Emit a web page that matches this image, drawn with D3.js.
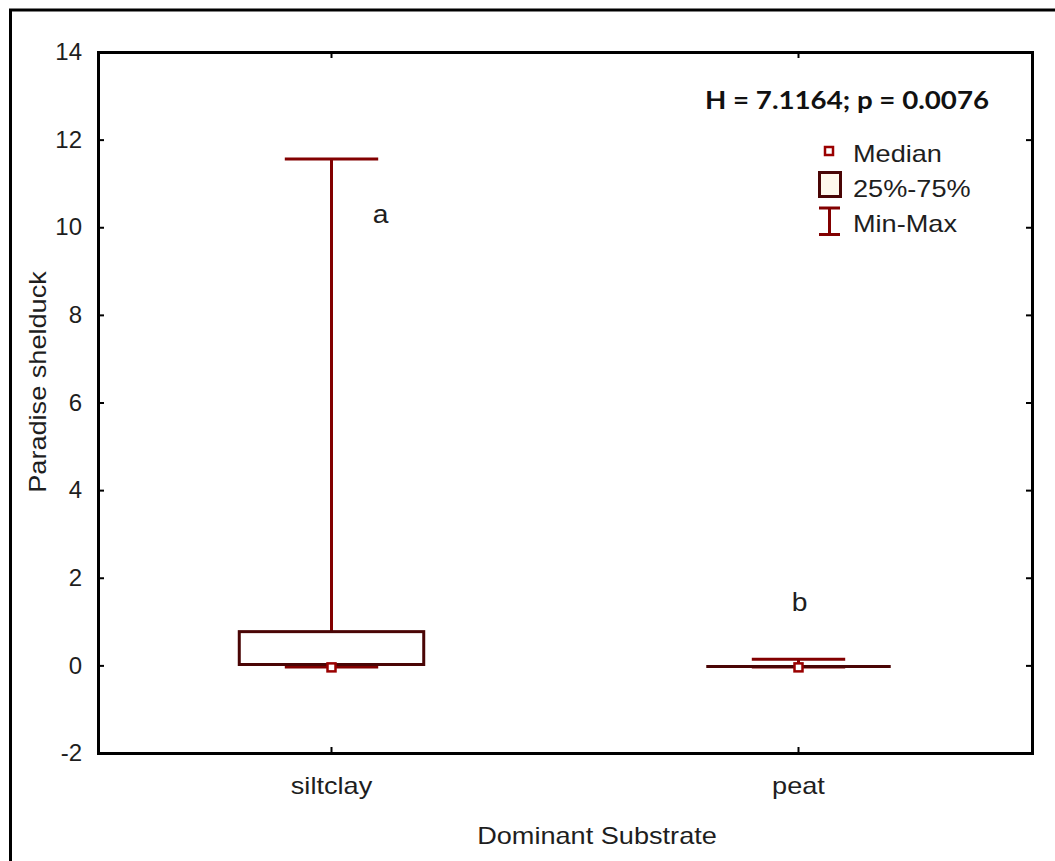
<!DOCTYPE html>
<html>
<head>
<meta charset="utf-8">
<script src="https://cdn.jsdelivr.net/npm/d3@7"></script>
<style>
  html, body { margin: 0; padding: 0; background: #fff; }
  svg { display: block; }
</style>
</head>
<body>
<script>
// Paradise shelduck counts by dominant substrate (box = quartiles, whiskers = min/max)
const categories = ["siltclay", "peat"];
const minValues    = [0.0, 0.0];
const q1Values     = [0.02, 0.0];
const medianValues = [0.0, 0.0];
const q3Values     = [0.77, 0.0];
const maxValues    = [11.56, 0.14];
const groupLetters = ["a", "b"];
const letterY      = [10.1, 1.25];
const yTicks = [-2, 0, 2, 4, 6, 8, 10, 12, 14];
const statText = "H = 7.1164; p = 0.0076";
const legendLabels = ["Median", "25%-75%", "Min-Max"];

const W = 1055, H = 861;
const plot = { left: 98, top: 52, right: 1032, bottom: 753 };

const whiskerColor = "#820000";
const boxColor = "#4a0505";
const medianColor = "#9a0000";
const textColor = "#1e1e1e";
const font = "'Liberation Sans', Arial, sans-serif";
const fontSize = "24px";
const textStretch = 1.13;   // slightly wide lettering

const svg = d3.select("body").append("svg")
  .attr("width", W).attr("height", H);

// outer frame
svg.append("path")
  .attr("d", `M10.5,${H + 5} L10.5,10 L${W + 5},10`)
  .attr("fill", "none").attr("stroke", "#000").attr("stroke-width", 3);

const x = d3.scaleBand().domain(categories).range([plot.left, plot.right]);
const y = d3.scaleLinear().domain([-2, 14]).range([plot.bottom, plot.top]);

// axes with inward ticks on all four sides
const axL = d3.axisLeft(y).tickValues(yTicks).tickSize(-6).tickPadding(16).tickFormat(d => String(d));
const axR = d3.axisRight(y).tickValues(yTicks).tickSize(-6).tickFormat("");
const axB = d3.axisBottom(x).tickSize(-6).tickPadding(24);
const axT = d3.axisTop(x).tickSize(-6).tickFormat("");

function styleAxis(g) {
  g.select(".domain").attr("stroke", "#000").attr("stroke-width", 3);
  g.selectAll(".tick line").attr("stroke", "#000").attr("stroke-width", 2);
  g.selectAll(".tick text").attr("fill", textColor)
    .style("font-family", font).style("font-size", fontSize);
}
svg.append("g").attr("transform", `translate(${plot.left},0)`).call(axL).call(styleAxis);
svg.append("g").attr("transform", `translate(${plot.right},0)`).call(axR).call(styleAxis);
svg.append("g").attr("transform", `translate(0,${plot.bottom})`).call(axB).call(styleAxis)
  .selectAll(".tick text").attr("class", "stretch");
svg.append("g").attr("transform", `translate(0,${plot.top})`).call(axT).call(styleAxis);
svg.selectAll(".domain").attr("stroke-linecap", "square");

// axis titles
svg.append("text").attr("class", "stretch")
  .attr("transform", `translate(46,382) rotate(-90)`)
  .attr("text-anchor", "middle")
  .style("font-family", font).style("font-size", fontSize).attr("fill", textColor)
  .text("Paradise shelduck");
svg.append("text").attr("class", "stretch")
  .attr("x", 597).attr("y", 844)
  .attr("text-anchor", "middle")
  .style("font-family", font).style("font-size", fontSize).attr("fill", textColor)
  .text("Dominant Substrate");

// box plots
const bw = x.bandwidth();
const boxW = bw * 0.395;
const capW = bw * 0.2;
const data = categories.map((c, i) => ({
  c, min: minValues[i], q1: q1Values[i], med: medianValues[i],
  q3: q3Values[i], max: maxValues[i], letter: groupLetters[i], ly: letterY[i]
}));
const letterDx = [49, 1];

const g = svg.append("g");
data.forEach((d, i) => {
  const cx = x(d.c) + bw / 2;
  // whisker to max
  g.append("line").attr("x1", cx).attr("x2", cx)
    .attr("y1", y(d.q3)).attr("y2", y(d.max))
    .attr("stroke", whiskerColor).attr("stroke-width", 3);
  g.append("line").attr("x1", cx - capW / 2).attr("x2", cx + capW / 2)
    .attr("y1", y(d.max)).attr("y2", y(d.max))
    .attr("stroke", whiskerColor).attr("stroke-width", 3);
  // whisker to min
  g.append("line").attr("x1", cx).attr("x2", cx)
    .attr("y1", y(d.q1)).attr("y2", y(d.min))
    .attr("stroke", whiskerColor).attr("stroke-width", 3);
  g.append("line").attr("x1", cx - capW / 2).attr("x2", cx + capW / 2)
    .attr("y1", y(d.min) + 1.5).attr("y2", y(d.min) + 1.5)
    .attr("stroke", whiskerColor).attr("stroke-width", 3);
  // box
  const top = y(d.q3), bot = y(d.q1);
  if (bot - top > 1) {
    g.append("rect").attr("x", cx - boxW / 2).attr("y", top)
      .attr("width", boxW).attr("height", bot - top)
      .attr("fill", "#fff").attr("stroke", boxColor).attr("stroke-width", 3);
  } else {
    g.append("line").attr("x1", cx - boxW / 2).attr("x2", cx + boxW / 2)
      .attr("y1", top + 1).attr("y2", top + 1)
      .attr("stroke", boxColor).attr("stroke-width", 3);
  }
  // median marker
  g.append("rect").attr("x", cx - 4).attr("y", y(d.med) - 2)
    .attr("width", 8).attr("height", 8)
    .attr("fill", "#fff").attr("stroke", medianColor).attr("stroke-width", 2.5);
  // group letter
  g.append("text").attr("class", "stretch")
    .attr("x", cx + letterDx[i]).attr("y", y(d.ly))
    .attr("text-anchor", "middle")
    .style("font-family", font).style("font-size", "25px").attr("fill", textColor)
    .text(d.letter);
});

// test statistic
svg.append("text").attr("x", 705).attr("y", 109)
  .attr("textLength", 284).attr("lengthAdjust", "spacingAndGlyphs")
  .style("font-family", "Lato, 'Open Sans', sans-serif").style("font-weight", "bold")
  .style("font-size", "24px").attr("fill", "#111")
  .text(statText);

// legend
const lg = svg.append("g");
lg.append("rect").attr("x", 825).attr("y", 147).attr("width", 8).attr("height", 8)
  .attr("fill", "#fff").attr("stroke", medianColor).attr("stroke-width", 2.5);
lg.append("rect").attr("x", 819.5).attr("y", 172.5).attr("width", 21).attr("height", 24)
  .attr("fill", "#fff8ec").attr("stroke", boxColor).attr("stroke-width", 3);
lg.append("line").attr("x1", 829.5).attr("x2", 829.5).attr("y1", 207).attr("y2", 235)
  .attr("stroke", whiskerColor).attr("stroke-width", 3);
lg.append("line").attr("x1", 819).attr("x2", 840).attr("y1", 208).attr("y2", 208)
  .attr("stroke", whiskerColor).attr("stroke-width", 3);
lg.append("line").attr("x1", 819).attr("x2", 840).attr("y1", 234.5).attr("y2", 234.5)
  .attr("stroke", whiskerColor).attr("stroke-width", 3);
lg.selectAll("text.lab").data(legendLabels).enter().append("text")
  .attr("class", "stretch")
  .attr("x", 853).attr("y", (d, i) => 162 + i * 35)
  .style("font-family", font).style("font-size", fontSize).attr("fill", textColor)
  .text(d => d);

// widen the regular lettering a little
svg.selectAll("text.stretch").each(function () {
  const w = this.getComputedTextLength();
  if (w > 0) {
    d3.select(this).attr("textLength", w * textStretch)
      .attr("lengthAdjust", "spacingAndGlyphs");
  }
});
</script>
</body>
</html>
